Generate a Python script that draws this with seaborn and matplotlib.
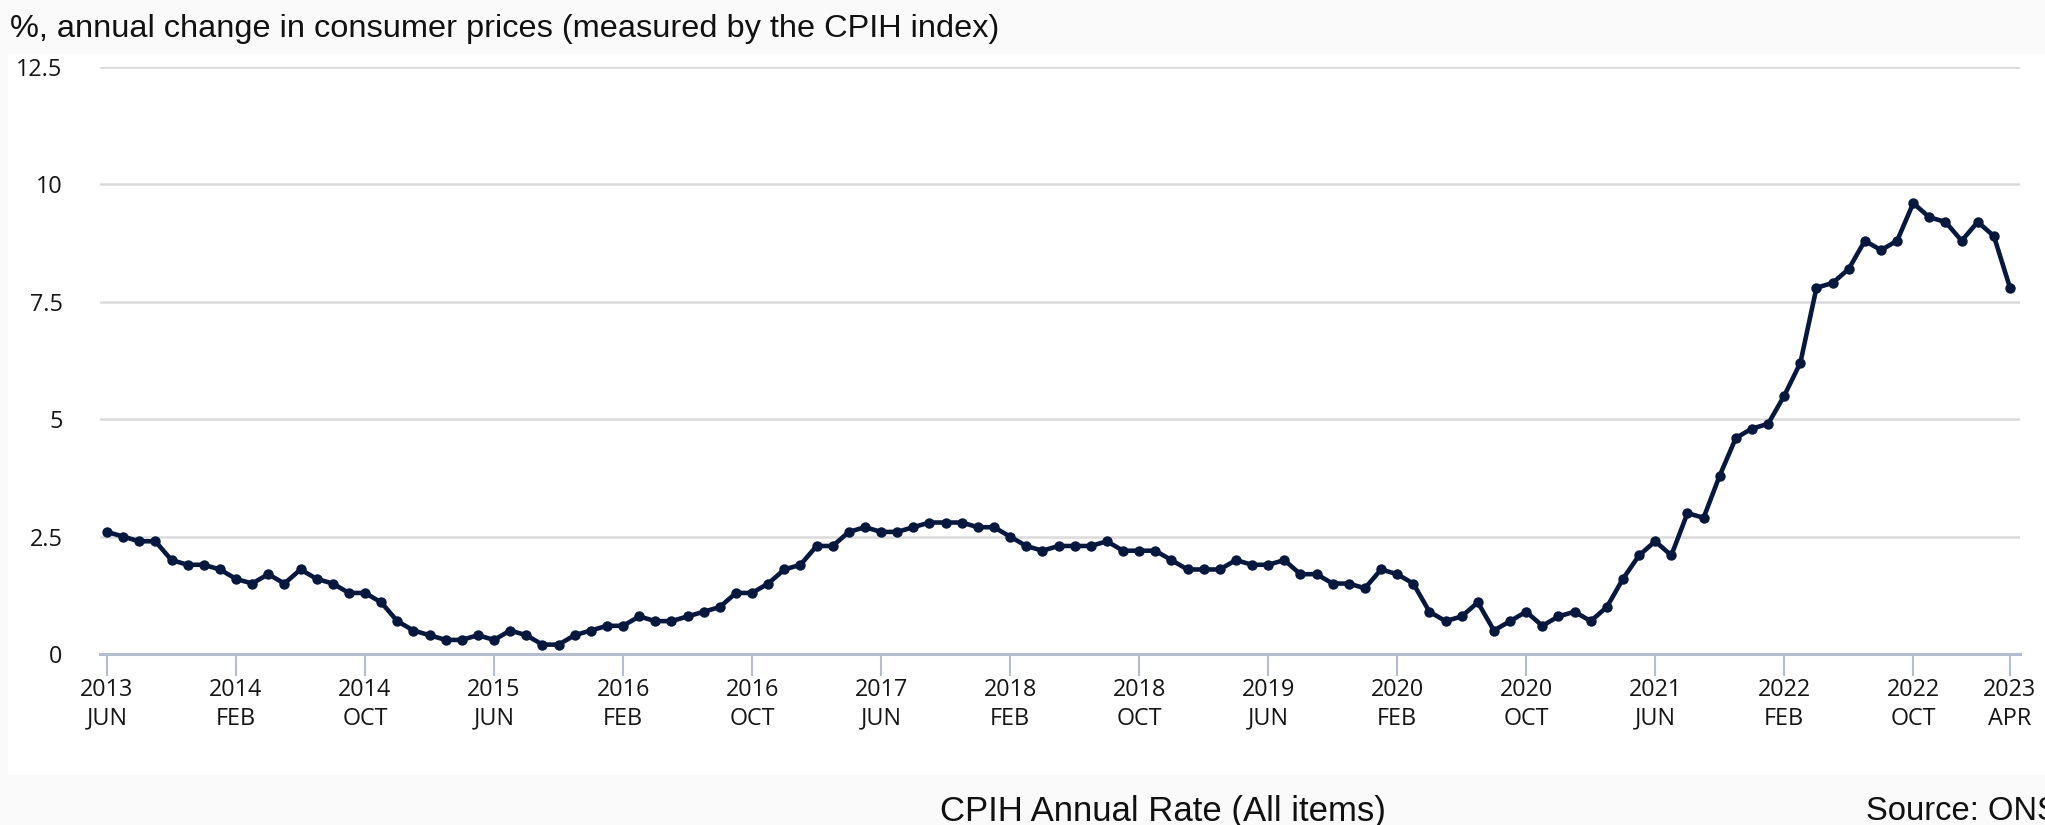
import numpy as np
import pandas as pd
import matplotlib
matplotlib.use("Agg")
import matplotlib.pyplot as plt
import seaborn as sns
from matplotlib.patches import Rectangle

# CPIH annual rate, monthly, Jun 2013 - Apr 2023
rates = [
    2.6, 2.5, 2.4, 2.4, 2.0, 1.9, 1.9,                              # 2013 Jun-Dec
    1.8, 1.6, 1.5, 1.7, 1.5, 1.8, 1.6, 1.5, 1.3, 1.3, 1.1, 0.7,     # 2014
    0.5, 0.4, 0.3, 0.3, 0.4, 0.3, 0.5, 0.4, 0.2, 0.2, 0.4, 0.5,     # 2015
    0.6, 0.6, 0.8, 0.7, 0.7, 0.8, 0.9, 1.0, 1.3, 1.3, 1.5, 1.8,     # 2016
    1.9, 2.3, 2.3, 2.6, 2.7, 2.6, 2.6, 2.7, 2.8, 2.8, 2.8, 2.7,     # 2017
    2.7, 2.5, 2.3, 2.2, 2.3, 2.3, 2.3, 2.4, 2.2, 2.2, 2.2, 2.0,     # 2018
    1.8, 1.8, 1.8, 2.0, 1.9, 1.9, 2.0, 1.7, 1.7, 1.5, 1.5, 1.4,     # 2019
    1.8, 1.7, 1.5, 0.9, 0.7, 0.8, 1.1, 0.5, 0.7, 0.9, 0.6, 0.8,     # 2020
    0.9, 0.7, 1.0, 1.6, 2.1, 2.4, 2.1, 3.0, 2.9, 3.8, 4.6, 4.8,     # 2021
    4.9, 5.5, 6.2, 7.8, 7.9, 8.2, 8.8, 8.6, 8.8, 9.6, 9.3, 9.2,     # 2022
    8.8, 9.2, 8.9, 7.8,                                             # 2023 Jan-Apr
]
tick_positions = [0, 8, 16, 24, 32, 40, 48, 56, 64, 72, 80, 88, 96, 104, 112, 118]
tick_years = ["2013", "2014", "2014", "2015", "2016", "2016", "2017", "2018",
              "2018", "2019", "2020", "2020", "2021", "2022", "2022", "2023"]
tick_months = ["JUN", "FEB", "OCT", "JUN", "FEB", "OCT", "JUN", "FEB",
               "OCT", "JUN", "FEB", "OCT", "JUN", "FEB", "OCT", "APR"]
y_ticks = [0, 2.5, 5, 7.5, 10, 12.5]
y_labels = ["0", "2.5", "5", "7.5", "10", "12.5"]
title = "%, annual change in consumer prices (measured by the CPIH index)"
series_label = "CPIH Annual Rate (All items)"
source = "Source: ONS"

sns.set_theme(style="white")
plt.rcParams["font.family"] = ["Open Sans", "DejaVu Sans"]

W, H = 2045, 825
fig = plt.figure(figsize=(W / 100, H / 100), dpi=100, facecolor="#fafafa")

# white card behind the chart
card = Rectangle((8 / W, 1 - 775 / H), 1.0, (775 - 54) / H,
                 transform=fig.transFigure, facecolor="white",
                 edgecolor="none", zorder=-5)
fig.patches.append(card)

ax = fig.add_axes([100 / W, 1 - 654 / H, 1920 / W, (654 - 67) / H])
ax.set_zorder(2)
ax.set_facecolor("none")
ax.patch.set_alpha(0)

df = pd.DataFrame({"month": np.arange(len(rates)), "rate": rates})
navy = "#07183f"
sns.lineplot(data=df, x="month", y="rate", ax=ax, color=navy, linewidth=3.3,
             marker="o", markersize=7.5, markeredgewidth=0, markerfacecolor=navy,
             clip_on=False, zorder=4)

ppm = (2010 - 107) / 118.0
ax.set_xlim(-7 / ppm, 118 + 10 / ppm)
ax.set_ylim(0, 12.5)

ax.set_yticks(y_ticks)
ax.set_yticklabels(y_labels)
ax.set_xticks(tick_positions)
ax.set_xticklabels([f"{y}\n{m}" for y, m in zip(tick_years, tick_months)],
                   linespacing=1.25)

ax.grid(axis="y", color="#dadada", linewidth=1.8)
ax.grid(axis="x", visible=False)
ax.set_axisbelow(True)

for s in ["top", "right", "left"]:
    ax.spines[s].set_visible(False)
axis_col = "#b3bdcd"
ax.spines["bottom"].set_color(axis_col)
ax.spines["bottom"].set_linewidth(2.2)
ax.spines["bottom"].set_zorder(3)

ax.tick_params(axis="x", direction="out", length=15.5, width=1.5, color=axis_col,
               pad=2, labelsize=16.8, labelcolor="#151515", bottom=True)
ax.tick_params(axis="y", length=0, pad=27, labelsize=16.8, labelcolor="#151515")
ax.set_xlabel("")
ax.set_ylabel("")

arial = ["Liberation Sans", "DejaVu Sans"]
fig.text(10 / W, 1 - 29 / H, title, ha="left", va="center",
         fontsize=23.4, color="#111111", family=arial)
fig.text(1163 / W, 1 - 812 / H, series_label, ha="center", va="center",
         fontsize=25, color="#111111", family=arial)
fig.text(1866 / W, 1 - 812 / H, source, ha="left", va="center",
         fontsize=23.6, color="#111111", family=arial)

fig.savefig("out.png", dpi=100, facecolor=fig.get_facecolor())
